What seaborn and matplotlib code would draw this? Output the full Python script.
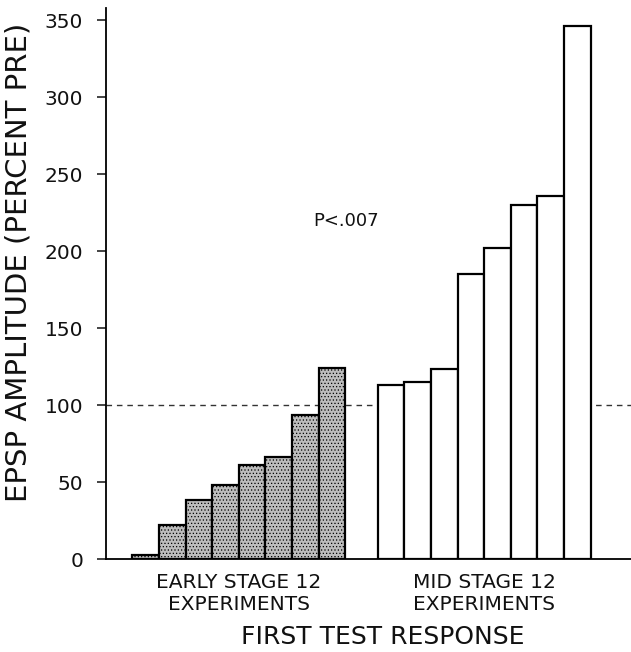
import numpy as np
import pandas as pd
import matplotlib
matplotlib.use("Agg")
import matplotlib.pyplot as plt
import seaborn as sns

# ---- data ----
groups = ["EARLY STAGE 12\nEXPERIMENTS", "MID STAGE 12\nEXPERIMENTS"]
early_values = [2.5, 22, 38.5, 48.5, 61, 66.5, 93.5, 124]
mid_values = [113, 115, 123.5, 185, 202, 230, 236, 346]
yticks = [0, 50, 100, 150, 200, 250, 300, 350]
ylabel = "EPSP AMPLITUDE (PERCENT PRE)"
xlabel = "FIRST TEST RESPONSE"
annotation = "P<.007"
baseline = 100

# ---- layout ----
group_gap = 9.23  # offset of second group (in bar widths)
pos_early = np.arange(len(early_values))
pos_mid = group_gap + np.arange(len(mid_values))
df = pd.DataFrame({
    "pos": np.concatenate([pos_early, pos_mid]),
    "value": early_values + mid_values,
    "group": [groups[0]] * len(early_values) + [groups[1]] * len(mid_values),
})

sns.set_style("white")
plt.rcParams["font.family"] = ["DejaVu Sans"]
plt.rcParams["hatch.color"] = "#707070"
plt.rcParams["hatch.linewidth"] = 0.5
for k in ["text.color", "axes.labelcolor", "xtick.color", "ytick.color",
          "xtick.labelcolor", "ytick.labelcolor"]:
    plt.rcParams[k] = "#111111"

W, H = 631, 652
fig = plt.figure(figsize=(W / 100, H / 100), dpi=100)
ax = fig.add_axes([0.168, 0.1422, 0.832, 0.8455])

ax.axhline(baseline, color="#333333", lw=1.0, ls=(0, (4, 3.5)), zorder=0)

sns.barplot(data=df, x="pos", y="value", hue="group", native_scale=True,
            width=1.0, dodge=False, palette=["#bdbdbd", "white"],
            edgecolor="black", linewidth=1.6, legend=False, ax=ax, zorder=2)

for bar in ax.containers[0]:
    bar.set_hatch(".....")

ax.set_xlim(-1.49, 18.25)
ax.set_ylim(0, 358)
ax.set_yticks(yticks)
ax.set_yticklabels([str(t) for t in yticks], fontsize=14.5)
ax.tick_params(axis="y", direction="out", length=6.5, width=1.1, pad=10, left=True)

centers = [pos_early.mean(), pos_mid.mean()]
ax.set_xticks(centers)
ax.set_xticklabels(groups, fontsize=14.5, linespacing=1.2)
ax.tick_params(axis="x", length=0, pad=10)

for s in ["top", "right"]:
    ax.spines[s].set_visible(False)
for s in ["left", "bottom"]:
    ax.spines[s].set_linewidth(1.3)
    ax.spines[s].set_color("black")

ax.set_xlabel("")
ax.set_ylabel(ylabel, fontsize=21)
# place the y label centre at the reference pixel position
bbox = ax.get_position()
lx = (19 / W - bbox.x0) / bbox.width
ly = ((1 - 262 / H) - bbox.y0) / bbox.height
ax.yaxis.set_label_coords(lx, ly)
ax.yaxis.label.set_va("center")

fig.text(313 / W, 1 - 221 / H, annotation, fontsize=13, ha="left", va="center")
fig.text(383 / W, 1 - 637 / H, xlabel, fontsize=18, ha="center", va="center")

fig.savefig("out.png", dpi=100)
